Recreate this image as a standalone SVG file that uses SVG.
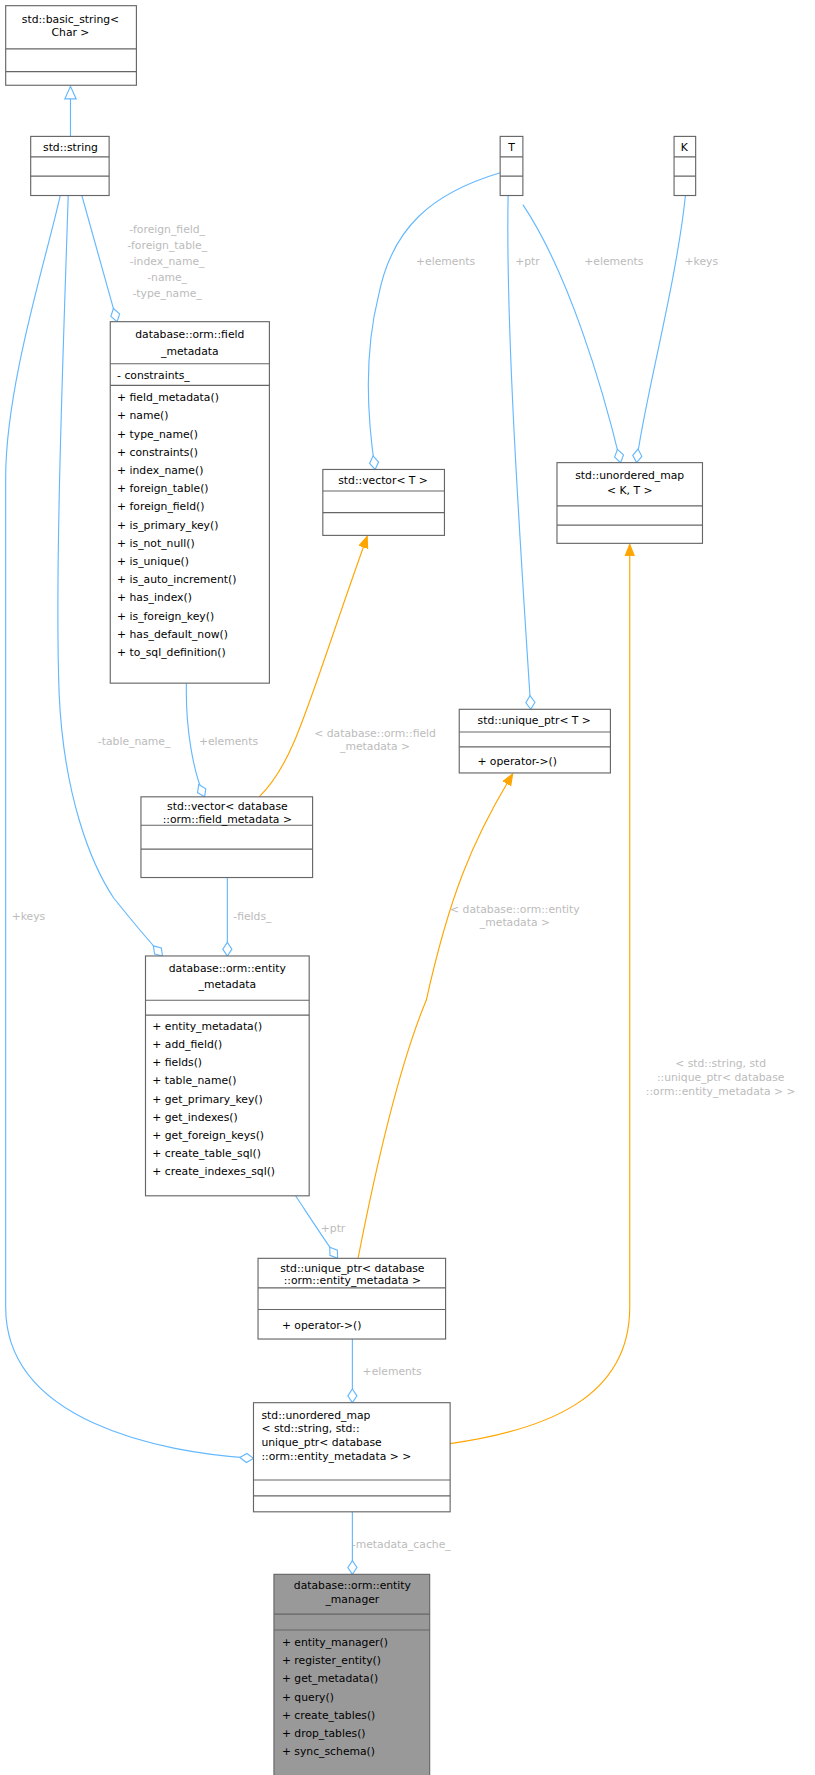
<svg xmlns="http://www.w3.org/2000/svg" width="815" height="1775" viewBox="0 0 815 1775">
<defs>
<style>
.n{fill:#fff;stroke:#666;stroke-width:1}
.m{fill:#999;stroke:#666;stroke-width:1}
.s{stroke:#666;stroke-width:1}
text{font-family:"DejaVu Sans",sans-serif;font-size:9.5px;fill:#000}
.c{text-anchor:middle}
.l{fill:#bbb;text-anchor:middle}
.b{fill:none;stroke:#63b8ff;stroke-width:1}
.o{fill:none;stroke:orange;stroke-width:1}
</style>
<marker id="dia" viewBox="-1 -5 14 10" markerWidth="14" markerHeight="10" refX="12" refY="0" orient="auto" markerUnits="userSpaceOnUse"><path d="M0,0 L6,-4 L12,0 L6,4 z" fill="#fff" stroke="#63b8ff"/></marker>
<marker id="arr" viewBox="0 -5 11 10" markerWidth="11" markerHeight="10" refX="10" refY="0" orient="auto" markerUnits="userSpaceOnUse"><path d="M0,-4 L10,0 L0,4 z" fill="orange" stroke="orange"/></marker>
<marker id="inh" viewBox="-1 -6 13 12" markerWidth="13" markerHeight="12" refX="11" refY="0" orient="auto" markerUnits="userSpaceOnUse"><path d="M0,-5 L11,0 L0,5 z" fill="#fff" stroke="#63b8ff"/></marker>
</defs>
<g transform="scale(1.1367)">
<g id="connectors">
<path class="b" d="M62,120 L62,76" marker-end="url(#inh)"/>
<path class="b" d="M72,172 L103,283" marker-end="url(#dia)"/>
<path class="b" d="M60,172 C56,300 48,500 52,610 C56,700 80,760 100,790 C120,815 133,830 143,841" marker-end="url(#dia)"/>
<path class="b" d="M53,172 C40,230 5,340 5,420 L5,1150 C5,1250 140,1278 223,1283" marker-end="url(#dia)"/>
<path class="b" d="M440,152 C380,170 345,200 333,260 C318,320 325,380 330,413" marker-end="url(#dia)"/>
<path class="b" d="M447,172 C445,280 455,440 467,624" marker-end="url(#dia)"/>
<path class="b" d="M460,180 C500,240 530,340 546,407" marker-end="url(#dia)"/>
<path class="b" d="M603,172 C595,250 565,360 560,407" marker-end="url(#dia)"/>
<path class="b" d="M164,601 C163,640 170,680 180,701" marker-end="url(#dia)"/>
<path class="o" d="M228,701 C260,670 270,620 323,472" marker-end="url(#arr)"/>
<path class="b" d="M200,772 L200,841" marker-end="url(#dia)"/>
<path class="b" d="M260,1052 C272,1070 285,1090 297,1107" marker-end="url(#dia)"/>
<path class="o" d="M315,1107 C330,1030 350,940 375,880 C395,790 415,740 451,681" marker-end="url(#arr)"/>
<path class="b" d="M310,1178 L310,1234" marker-end="url(#dia)"/>
<path class="o" d="M396,1270 C480,1258 554,1230 554,1150 L554,479" marker-end="url(#arr)"/>
<path class="b" d="M310,1330 L310,1385" marker-end="url(#dia)"/>
<text class="l" x="147" y="205">-foreign_field_</text>
<text class="l" x="147" y="219">-foreign_table_</text>
<text class="l" x="147" y="233">-index_name_</text>
<text class="l" x="147" y="247">-name_</text>
<text class="l" x="147" y="261">-type_name_</text>
<text class="l" x="118" y="655">-table_name_</text>
<text class="l" x="25" y="809">+keys</text>
<text class="l" x="392" y="233">+elements</text>
<text class="l" x="464" y="233">+ptr</text>
<text class="l" x="540" y="233">+elements</text>
<text class="l" x="617" y="233">+keys</text>
<text class="l" x="201" y="655">+elements</text>
<text class="l" x="330" y="648">&lt; database::orm::field</text>
<text class="l" x="330" y="660">_metadata &gt;</text>
<text class="l" x="222" y="809">-fields_</text>
<text class="l" x="293" y="1084">+ptr</text>
<text class="l" x="453" y="803">&lt; database::orm::entity</text>
<text class="l" x="453" y="815">_metadata &gt;</text>
<text class="l" x="345" y="1210">+elements</text>
<text class="l" x="353" y="1362">-metadata_cache_</text>
<text class="l" x="634" y="939">&lt; std::string, std</text>
<text class="l" x="634" y="951">::unique_ptr&lt; database</text>
<text class="l" x="634" y="963">::orm::entity_metadata &gt; &gt;</text>
</g>
<g id="basic_string"><rect class="n" x="5" y="5" width="115" height="70"/><path class="s" d="M5,43H120M5,63H120"/><text class="c" x="62" y="20">std::basic_string&lt;</text><text class="c" x="62" y="32">Char &gt;</text></g>
<g id="string"><rect class="n" x="27" y="120" width="69" height="52"/><path class="s" d="M27,138H96M27,155H96"/><text class="c" x="62" y="133">std::string</text></g>
<g id="T"><rect class="n" x="440" y="120" width="20" height="52"/><path class="s" d="M440,138H460M440,155H460"/><text class="c" x="450" y="133">T</text></g>
<g id="K"><rect class="n" x="593" y="120" width="19" height="52"/><path class="s" d="M593,138H612M593,155H612"/><text class="c" x="602" y="133">K</text></g>
<g id="field_metadata"><rect class="n" x="97" y="283" width="140" height="318"/><path class="s" d="M97,320H237M97,339H237"/>
<text class="c" x="167" y="297">database::orm::field</text><text class="c" x="167" y="312">_metadata</text>
<text x="103" y="333">-  constraints_</text>
<text x="103" y="353">+  field_metadata()</text><text x="103" y="369">+  name()</text><text x="103" y="385">+  type_name()</text><text x="103" y="401">+  constraints()</text><text x="103" y="417">+  index_name()</text><text x="103" y="433">+  foreign_table()</text><text x="103" y="449">+  foreign_field()</text><text x="103" y="465">+  is_primary_key()</text><text x="103" y="481">+  is_not_null()</text><text x="103" y="497">+  is_unique()</text><text x="103" y="513">+  is_auto_increment()</text><text x="103" y="529">+  has_index()</text><text x="103" y="545">+  is_foreign_key()</text><text x="103" y="561">+  has_default_now()</text><text x="103" y="577">+  to_sql_definition()</text></g>
<g id="vector_T"><rect class="n" x="284" y="413" width="107" height="58"/><path class="s" d="M284,432H391M284,451H391"/><text class="c" x="337" y="426">std::vector&lt; T &gt;</text></g>
<g id="umap_KT"><rect class="n" x="490" y="407" width="128" height="71"/><path class="s" d="M490,445H618M490,462H618"/><text class="c" x="554" y="421">std::unordered_map</text><text class="c" x="554" y="435">&lt; K, T &gt;</text></g>
<g id="unique_ptr_T"><rect class="n" x="404" y="624" width="133" height="56"/><path class="s" d="M404,644H537M404,657H537"/><text class="c" x="470" y="637">std::unique_ptr&lt; T &gt;</text><text x="420" y="673">+    operator-&gt;()</text></g>
<g id="vector_fm"><rect class="n" x="124" y="701" width="151" height="71"/><path class="s" d="M124,726H275M124,747H275"/><text class="c" x="200" y="713">std::vector&lt; database</text><text class="c" x="200" y="724">::orm::field_metadata &gt;</text></g>
<g id="entity_metadata"><rect class="n" x="128" y="841" width="144" height="211"/><path class="s" d="M128,880H272M128,893H272"/>
<text class="c" x="200" y="855">database::orm::entity</text><text class="c" x="200" y="869">_metadata</text>
<text x="134" y="906">+  entity_metadata()</text><text x="134" y="922">+  add_field()</text><text x="134" y="938">+  fields()</text><text x="134" y="954">+  table_name()</text><text x="134" y="970">+  get_primary_key()</text><text x="134" y="986">+  get_indexes()</text><text x="134" y="1002">+  get_foreign_keys()</text><text x="134" y="1018">+  create_table_sql()</text><text x="134" y="1034">+  create_indexes_sql()</text></g>
<g id="unique_ptr_em"><rect class="n" x="227" y="1107" width="165" height="71"/><path class="s" d="M227,1133H392M227,1152H392"/><text class="c" x="310" y="1119">std::unique_ptr&lt; database</text><text class="c" x="310" y="1130">::orm::entity_metadata &gt;</text><text x="248" y="1169">+      operator-&gt;()</text></g>
<g id="umap_big"><rect class="n" x="223" y="1234" width="173" height="96"/><path class="s" d="M223,1302H396M223,1316H396"/><text x="230" y="1248">std::unordered_map</text><text x="230" y="1260">&lt; std::string, std::</text><text x="230" y="1272">unique_ptr&lt; database</text><text x="230" y="1284">::orm::entity_metadata &gt; &gt;</text></g>
<g id="entity_manager"><rect class="m" x="241" y="1385" width="137" height="177"/><path class="s" d="M241,1420H378M241,1434H378"/><text class="c" x="310" y="1398">database::orm::entity</text><text class="c" x="310" y="1410">_manager</text>
<text x="248" y="1448">+   entity_manager()</text><text x="248" y="1464">+   register_entity()</text><text x="248" y="1480">+   get_metadata()</text><text x="248" y="1496">+   query()</text><text x="248" y="1512">+   create_tables()</text><text x="248" y="1528">+   drop_tables()</text><text x="248" y="1544">+   sync_schema()</text></g>
</g>
</svg>
